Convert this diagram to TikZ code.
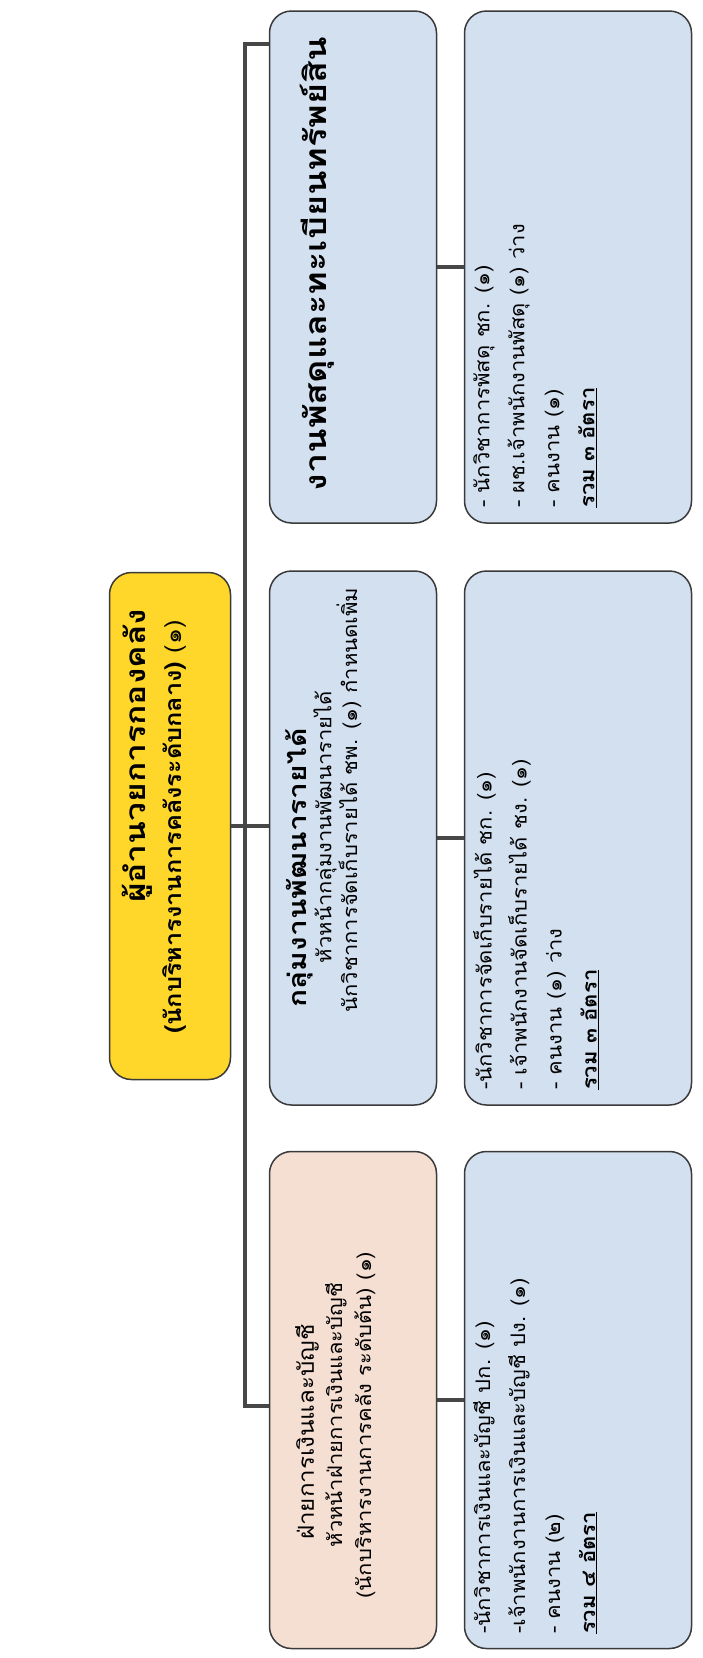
\documentclass[tikz,border=0pt]{standalone}
\usepackage{fontspec}
\setmainfont[Script=Thai, FakeStretch=1.1]{Loma}
\newfontfamily\headfont[Script=Thai, FakeStretch=1.2]{Loma}
\definecolor{chiefyellow}{HTML}{FFD62A}
\definecolor{unitblue}{HTML}{D3E0F0}
\definecolor{unitpeach}{HTML}{F5DED2}
\definecolor{edgegray}{HTML}{3A3A3A}
\definecolor{linkgray}{HTML}{474747}
\tikzset{
  unitbox/.style={draw=edgegray, line width=1.5pt, rounded corners=22pt, rotate=90, inner sep=0pt},
  link/.style={draw=linkgray, line width=3.5pt},
  label/.style={rotate=90, inner sep=0pt, text=black},
  body/.style={label, font=\fontsize{20}{35}\selectfont},
  stafflist/.style={body, align=left, anchor=north west},
}
\begin{document}
\begin{tikzpicture}[x=1pt,y=-1pt]
\path[use as bounding box, fill=white] (0,0) rectangle (702,1658);

% head of division
\node[unitbox, fill=chiefyellow, minimum width=507pt, minimum height=121pt] (chief) at (170,826) {};
\node[label, font=\headfont\fontsize{28}{34}\selectfont\bfseries] (chiefname) at (137,756)
  {ผู้อำนวยการกองคลัง};
\node[label, font=\fontsize{23}{30}\selectfont\bfseries] (chiefrank) at (174,827)
  {(นักบริหารงานการคลังระดับกลาง) {\mdseries(๑)}};

% second level units
\node[unitbox, fill=unitblue, minimum width=512pt, minimum height=167pt] (unitc) at (353,267) {};
\node[unitbox, fill=unitblue, minimum width=534pt, minimum height=167pt] (unitb) at (353,838) {};
\node[unitbox, fill=unitpeach, minimum width=497pt, minimum height=167pt] (unita) at (353,1400) {};

\node[label, font=\headfont\fontsize{30}{34}\selectfont\bfseries] (unitcname) at (317,264)
  {งานพัสดุและทะเบียนทรัพย์สิน};

\node[label, font=\headfont\fontsize{25}{30}\selectfont\bfseries] (unitbname) at (299,868)
  {กลุ่มงานพัฒนารายได้};
\node[body] (unitbhead) at (325,827) {หัวหน้ากลุ่มงานพัฒนารายได้};
\node[body] (unitbpost) at (349,800) {นักวิชาการจัดเก็บรายได้ ชพ. (๑) กำหนดเพิ่ม};

\node[label, font=\fontsize{22}{30}\selectfont] (unitaname) at (307,1432) {ฝ่ายการเงินและบัญชี};
\node[body] (unitahead) at (336,1415) {หัวหน้าฝ่ายการเงินและบัญชี};
\node[body] (unitapost) at (365,1425) {(นักบริหารงานการคลัง ระดับต้น) (๑)};

% staff lists
\node[unitbox, fill=unitblue, minimum width=512pt, minimum height=227pt] (staffc) at (578,267) {};
\node[unitbox, fill=unitblue, minimum width=534pt, minimum height=227pt] (staffb) at (578,838) {};
\node[unitbox, fill=unitblue, minimum width=497pt, minimum height=227pt] (staffa) at (578,1400) {};

\node[stafflist] (staffctxt) at (473,508)
  {- นักวิชาการพัสดุ ชก. (๑)\\- ผช.เจ้าพนักงานพัสดุ (๑) ว่าง\\- คนงาน (๑)\\\underline{\textbf{รวม ๓ อัตรา}}};
\node[stafflist] (staffbtxt) at (473,1090)
  {-นักวิชาการจัดเก็บรายได้ ชก. (๑)\\- เจ้าพนักงานจัดเก็บรายได้ ชง. (๑)\\- คนงาน (๑) ว่าง\\\underline{\textbf{รวม ๓ อัตรา}}};
\node[stafflist] (staffatxt) at (473,1634)
  {-นักวิชาการเงินและบัญชี ปก. (๑)\\-เจ้าพนักงานการเงินและบัญชี ปง. (๑)\\- คนงาน (๒)\\\underline{\textbf{รวม ๔ อัตรา}}};

% connectors
\coordinate (bustop) at (245,44);
\coordinate (busbot) at (245,1406);
\draw[link] (chief.south) -- (chief.south -| unitb.north);
\draw[link] (bustop -| unitc.north) -- (bustop) -- (busbot) -- (busbot -| unita.north);
\draw[link] (unitc.south) -- (staffc.north);
\draw[link] (unitb.south) -- (staffb.north);
\draw[link] (unita.south) -- (staffa.north);
\end{tikzpicture}
\end{document}
